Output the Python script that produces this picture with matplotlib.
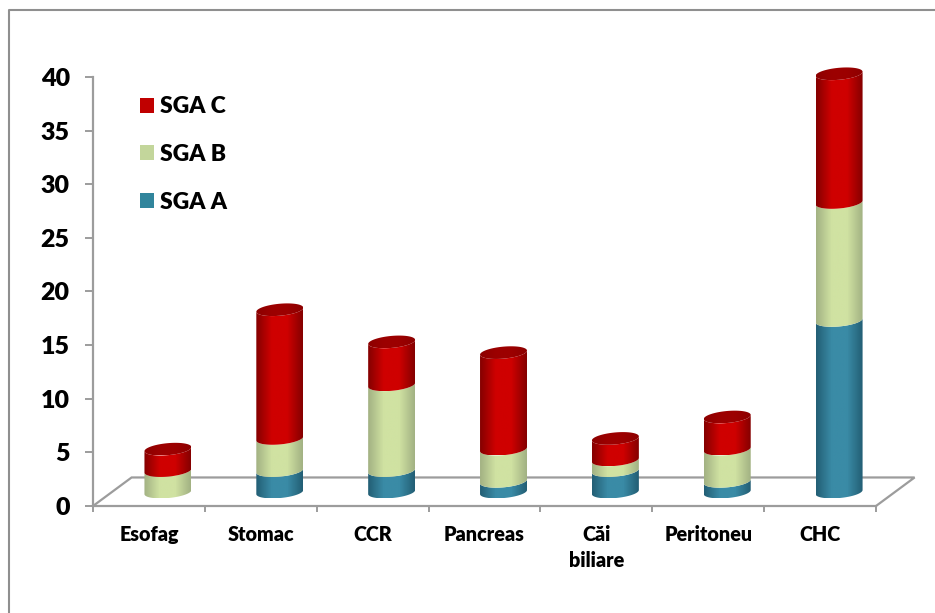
import numpy as np
import matplotlib
matplotlib.use("Agg")
import matplotlib.pyplot as plt
from matplotlib.colors import LinearSegmentedColormap
from matplotlib.lines import Line2D
from matplotlib.patches import Patch, Polygon

plt.rcParams["font.family"] = ["Lato", "DejaVu Sans"]
plt.rcParams["font.weight"] = "heavy"

# Chart values
categories = ["Esofag", "Stomac", "CCR", "Pancreas", "Căi\nbiliare", "Peritoneu", "CHC"]
sga_a = [0, 2, 2, 1, 2, 1, 16]
sga_b = [2, 3, 8, 3, 1, 3, 11]
sga_c = [2, 12, 4, 9, 2, 3, 12]
y_ticks = [0, 5, 10, 15, 20, 25, 30, 35, 40]

# Shading for each series: edge, middle
blue = ["#235f75", "#3a8ba6"]
green = ["#a3b283", "#d0e2a2"]
red = ["#860000", "#cf0000"]
top_red = ["#8c0000", "#9c0000"]

GRAY = "#9c9c9c"
BAR_X = 0.67        # cylinder centre inside each category slot
BAR_W = 0.21        # half width
BAR_B = 0.56        # half height of the ellipses
BAR_TILT = 0.19     # ellipses lean up to the right
BASE = 1.3          # cylinders stand on the floor, behind the front edge
DEPTH_X = 0.345
DEPTH_Y = 2.66


def arc(xc, yc, start, stop):
    t = np.linspace(start, stop, 60)
    x = xc + BAR_W * np.cos(t)
    y = yc + BAR_B * np.sin(t) + BAR_TILT * np.cos(t)
    return np.column_stack([x, y])


def shaded(ax, xc, outline, colors, z):
    # horizontal gradient clipped to the outline of the segment
    cmap = LinearSegmentedColormap.from_list("s", [colors[0], colors[1], colors[1], colors[0]], N=128)
    grad = np.linspace(0, 1, 80)[None, :]
    ymin, ymax = outline[:, 1].min(), outline[:, 1].max()
    im = ax.imshow(grad, extent=[xc - BAR_W, xc + BAR_W, ymin, ymax], cmap=cmap,
                   aspect="auto", zorder=z, interpolation="bilinear")
    patch = Polygon(outline, closed=True, transform=ax.transData, fc="none", ec="none", clip_on=False)
    ax.add_patch(patch)
    im.set_clip_path(patch)
    # the lid of the tallest cylinder rises above the top of the axis
    im.set_clip_box(fig.bbox)


fig = plt.figure(figsize=(9.35, 6.13), dpi=100)
ax = fig.add_axes([93 / 935, (613 - 506) / 613, 783 / 935, 429 / 613])

# Floor of the 3D plot
floor_x = [0, DEPTH_X, 7 + DEPTH_X, 7]
floor_y = [0, DEPTH_Y, DEPTH_Y, 0]
ax.plot(floor_x, floor_y, color=GRAY, lw=1.6, clip_on=False, zorder=1, solid_joinstyle="miter")

# Cylinders, stacked from the bottom
for i in range(len(categories)):
    xc = i + BAR_X
    level = BASE
    z = 3
    for values, colors in [(sga_a, blue), (sga_b, green), (sga_c, red)]:
        if values[i] == 0:
            continue
        top = level + values[i]
        outline = np.vstack([arc(xc, level, np.pi, 2 * np.pi), arc(xc, top, 2 * np.pi, np.pi)])
        shaded(ax, xc, outline, colors, z)
        level = top
        z += 1
    lid = arc(xc, level, 0, 2 * np.pi)
    shaded(ax, xc, lid, top_red, z + 1)

ax.set_xlim(0, 7)
ax.set_ylim(0, 40)
ax.patch.set_visible(False)

for side in ["top", "right"]:
    ax.spines[side].set_visible(False)
for side in ["left", "bottom"]:
    ax.spines[side].set_color(GRAY)
    ax.spines[side].set_linewidth(1.6)

ax.set_yticks(y_ticks)
ax.tick_params(axis="y", length=5.8, width=1.4, color=GRAY, pad=11, labelsize=18, labelcolor="black")
ax.set_xticks(range(8))
ax.set_xticklabels([])
ax.tick_params(axis="x", which="major", length=4.5, width=1.4, color=GRAY)
ax.set_xticks([i + 0.5 for i in range(len(categories))], minor=True)
ax.set_xticklabels(categories, minor=True, fontsize=14.2, linespacing=1.4)
ax.tick_params(axis="x", which="minor", length=0, pad=14, labelcolor="black")

# Legend, top entry first
handles = [Patch(fc="#c00000"), Patch(fc="#c3d69b"), Patch(fc="#31859c")]
fig.legend(handles, ["SGA C", "SGA B", "SGA A"], loc="upper left",
           bbox_to_anchor=(131 / 935, 1 - 87 / 613), frameon=False, fontsize=16.5,
           handlelength=0.62, handleheight=0.62, handletextpad=0.24, labelspacing=1.17,
           borderpad=0.4, borderaxespad=0)

# Outer frame: only the top and left edges are inside the canvas
fig.add_artist(Line2D([9 / 935, 9 / 935, 1], [0, 1 - 10 / 613, 1 - 10 / 613],
                      color="#8f8f8f", lw=1.5, transform=fig.transFigure))

fig.savefig("out.png", dpi=100)
